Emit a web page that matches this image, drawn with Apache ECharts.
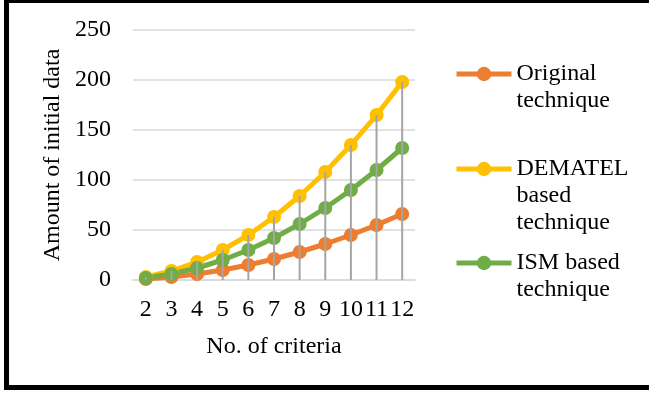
<!DOCTYPE html>
<html>
<head>
<meta charset="utf-8">
<script src="https://cdn.jsdelivr.net/npm/echarts@6/dist/echarts.min.js"></script>
<style>
html,body{margin:0;padding:0;background:#fff;}
#chart{width:649px;height:393px;}
</style>
</head>
<body>
<div id="chart"></div>
<script>
const categories = ['2','3','4','5','6','7','8','9','10','11','12'];
const originalValues = [1, 3, 6, 10, 15, 21, 28, 36, 45, 55, 66];
const dematelValues = [3, 9, 18, 30, 45, 63, 84, 108, 135, 165, 198];
const ismValues = [2, 6, 12, 20, 30, 42, 56, 72, 90, 110, 132];
const seriesNames = ['Original\ntechnique', 'DEMATEL\nbased\ntechnique', 'ISM based\ntechnique'];
const seriesColors = ['#ED7D31', '#FFC000', '#70AD47'];
const yTicks = [0, 50, 100, 150, 200, 250];

const dropValues = categories.map((c, i) => Math.max(originalValues[i], dematelValues[i], ismValues[i]));

const font = 'Liberation Serif';
const fs = 24;
const lh = 27;
const chart = echarts.init(document.getElementById('chart'));

function lineSeries(name, data, color) {
  return {
    name: name,
    type: 'line',
    data: data,
    symbol: 'circle',
    symbolSize: 14,
    lineStyle: { color: color, width: 5 },
    itemStyle: { color: color },
    z: 2
  };
}

// icon centre y positions in the reference: 74, 168, 263
const iconCentres = [74, 169, 263];
const legends = seriesNames.map((n, i) => {
  const lines = n.split('\n').length;
  const boxH = (2 * lines - 1) * lh;
  return {
    data: [n],
    orient: 'vertical',
    left: 454,
    top: iconCentres[i] - boxH / 2,
    padding: 0,
    itemWidth: 55,
    itemHeight: 18,
    itemGap: 0,
    selectedMode: false,
    lineStyle: { width: 5 },
    formatter: function (name) {
      return '\n'.repeat(lines - 1) + name;
    },
    textStyle: {
      fontFamily: font,
      fontSize: fs,
      color: '#000',
      lineHeight: lh
    }
  };
});

chart.setOption({
  animation: false,
  backgroundColor: '#fff',
  graphic: [{
    type: 'rect',
    shape: { x: 6.5, y: 0.5, width: 670, height: 387 },
    style: { fill: 'none', stroke: '#000', lineWidth: 5 },
    z: 100
  }],
  grid: { left: 133, right: 234, top: 30, bottom: 113 },
  legend: legends,
  xAxis: {
    type: 'category',
    data: categories,
    boundaryGap: true,
    name: 'No. of criteria',
    nameLocation: 'middle',
    nameGap: 55,
    nameTextStyle: { fontFamily: font, fontSize: fs, color: '#000' },
    axisLine: { lineStyle: { color: '#d9d9d9', width: 1.5 } },
    axisTick: { show: false },
    axisLabel: { fontFamily: font, fontSize: fs, color: '#000', margin: 18, interval: 0 }
  },
  yAxis: {
    type: 'value',
    min: yTicks[0],
    max: yTicks[yTicks.length - 1],
    interval: yTicks[1] - yTicks[0],
    name: 'Amount of initial data',
    nameLocation: 'middle',
    nameGap: 68,
    nameTextStyle: { fontFamily: font, fontSize: fs, color: '#000' },
    axisLine: { show: false },
    axisTick: { show: false },
    splitLine: { lineStyle: { color: '#d9d9d9', width: 1.5 } },
    axisLabel: { fontFamily: font, fontSize: fs, color: '#000', margin: 22 }
  },
  series: [
    lineSeries(seriesNames[0], originalValues, seriesColors[0]),
    lineSeries(seriesNames[1], dematelValues, seriesColors[1]),
    lineSeries(seriesNames[2], ismValues, seriesColors[2]),
    {
      name: 'drop',
      type: 'bar',
      data: dropValues,
      barWidth: 2,
      itemStyle: { color: '#a5a5a5' },
      z: 3,
      silent: true
    }
  ]
});
</script>
</body>
</html>
